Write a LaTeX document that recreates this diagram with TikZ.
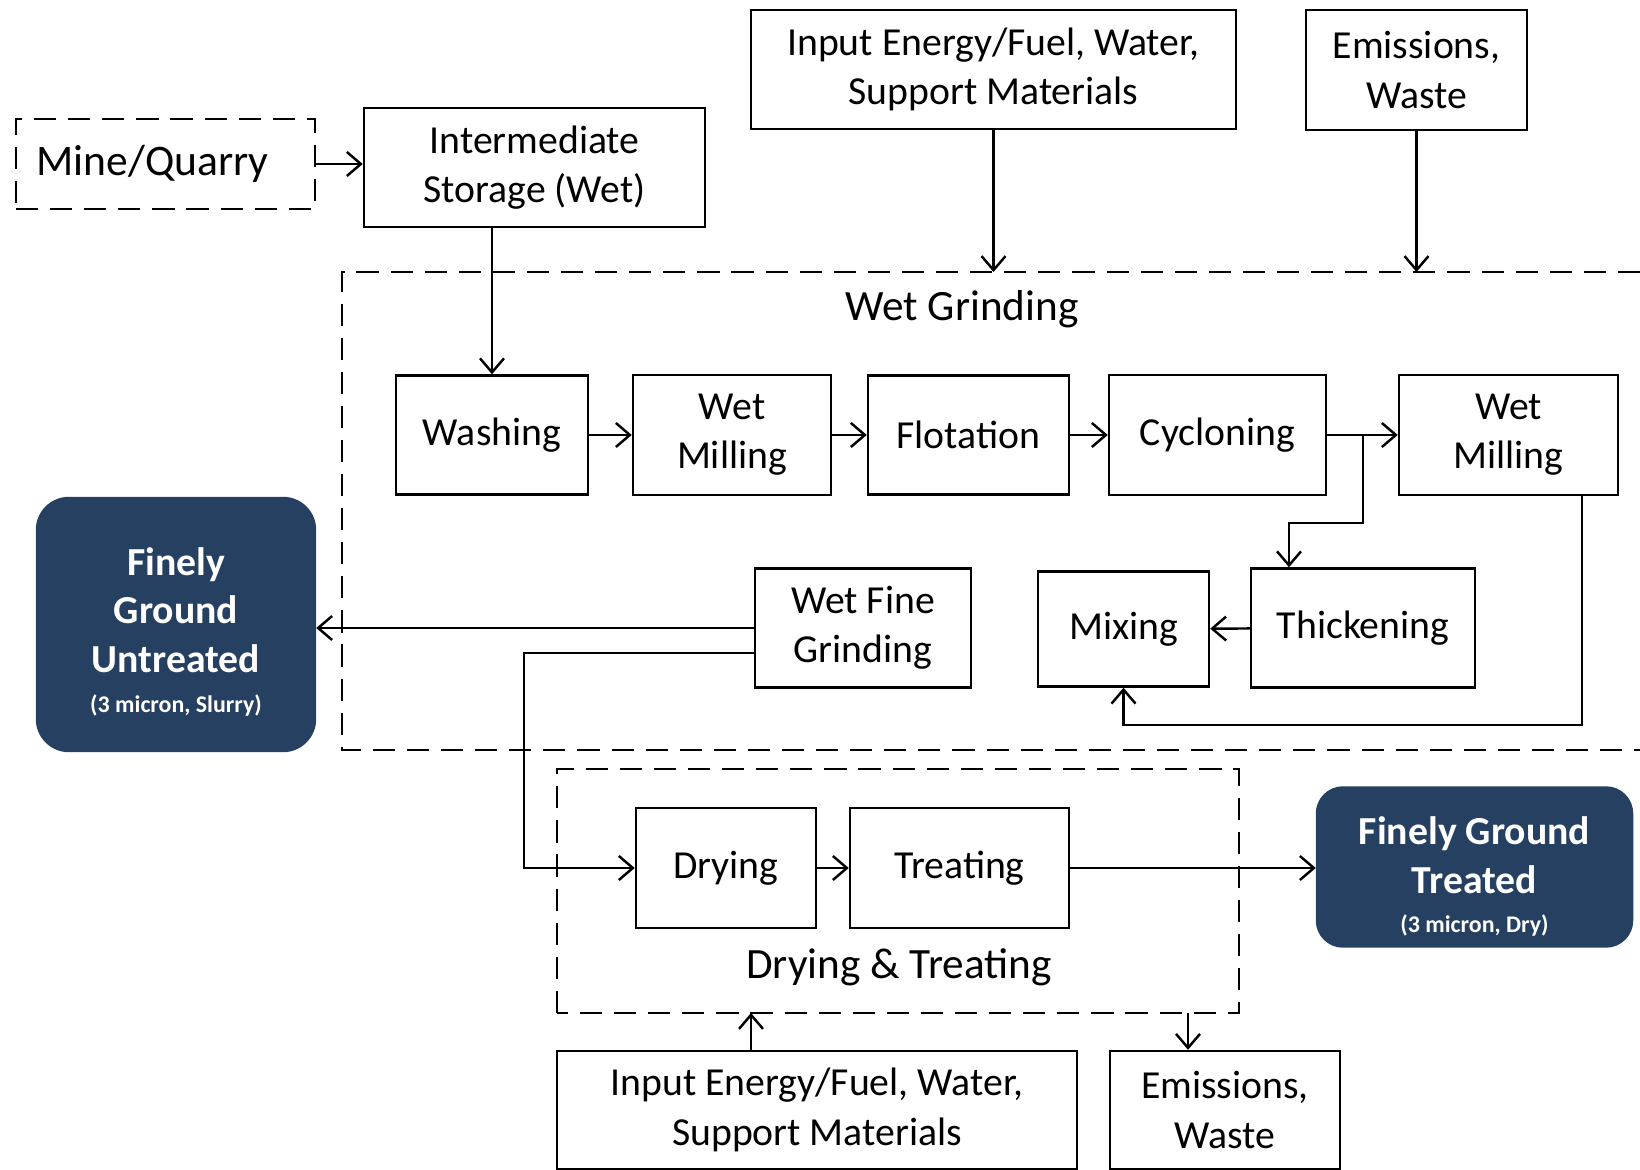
\documentclass[tikz,border=0pt]{standalone}
\usepackage{fontspec}
\setmainfont{Carlito}
\usetikzlibrary{arrows.meta}
\definecolor{navy}{RGB}{37,64,97}
\newcommand{\subnote}[1]{{\fontsize{6.8}{8}\selectfont\bfseries #1}}
\tikzset{
  procbox/.style={draw,line width=0.7pt,align=center,inner sep=0pt,
    font=\fontsize{11.3}{14}\selectfont},
  endbox/.style={draw=navy,fill=navy,text=white,rounded corners=3.2mm,
    align=center,inner sep=0pt,font=\fontsize{11.3}{13.8}\selectfont\bfseries},
  dashbox/.style={draw,line width=0.8pt,dash pattern=on 6.3pt off 3.4pt},
  grouplabel/.style={font=\fontsize{12.3}{14}\selectfont}
}
\begin{document}
\begin{tikzpicture}[>={Straight Barb[length=1.4mm,width=2.4mm]},line width=0.7pt]
    \useasboundingbox (0,0) rectangle (16.40,11.69);
    % dashed groups
    \draw[dashbox] (16.40,8.97) -- (3.42,8.97) -- (3.42,4.19) -- (16.40,4.19);
    \draw[dashbox] (5.57,1.56) rectangle (12.39,4.00);
    \coordinate (wgTop) at (3.42,8.97);
    \coordinate (dtBot) at (5.57,1.56);
    \node[grouplabel] at (9.62,8.60) (wgLabel) {Wet Grinding};
    \node[grouplabel] at (8.99,2.02) (dtLabel) {Drying \& Treating};
    % top row
    \node[procbox,dashbox,minimum width=2.99cm,minimum height=0.90cm,text width=2.58cm,align=left,
      font=\fontsize{12.4}{14}\selectfont] at (1.655,10.05) (mine) {Mine/Quarry};
    \node[procbox,minimum width=3.41cm,minimum height=1.19cm] at (5.345,10.015) (store) {Intermediate\\Storage (Wet)};
    \node[procbox,minimum width=4.85cm,minimum height=1.19cm] at (9.935,10.995) (inTop) {Input Energy/Fuel, Water,\\Support Materials};
    \node[procbox,minimum width=2.21cm,minimum height=1.20cm] at (14.165,10.99) (emTop) {Emissions,\\Waste};
    % wet grinding
    \node[procbox,minimum width=1.92cm,minimum height=1.19cm] at (4.92,7.34) (wash) {Washing};
    \node[procbox,minimum width=1.98cm,minimum height=1.20cm] at (7.32,7.34) (millA) {Wet\\Milling};
    \node[procbox,minimum width=2.01cm,minimum height=1.19cm] at (9.685,7.34) (flot) {Flotation};
    \node[procbox,minimum width=2.17cm,minimum height=1.20cm] at (12.175,7.34) (cyc) {Cycloning};
    \node[procbox,minimum width=2.19cm,minimum height=1.20cm] at (15.085,7.34) (millB) {Wet\\Milling};
    \node[procbox,minimum width=2.24cm,minimum height=1.19cm] at (13.63,5.41) (thick) {Thickening};
    \node[procbox,minimum width=1.71cm,minimum height=1.15cm] at (11.235,5.40) (mix) {Mixing};
    \node[procbox,minimum width=2.16cm,minimum height=1.19cm] at (8.63,5.41) (wfg) {Wet Fine\\Grinding};
    \node[endbox,minimum width=2.78cm,minimum height=2.53cm,text height=51pt] at (1.76,5.445) (untr) {Finely\\Ground\\Untreated\\[-2.4pt]\subnote{(3 micron, Slurry)}};
    % drying and treating
    \node[procbox,minimum width=1.80cm,minimum height=1.20cm] at (7.26,3.01) (dry) {Drying};
    \node[procbox,minimum width=2.19cm,minimum height=1.20cm] at (9.595,3.01) (treat) {Treating};
    \node[endbox,minimum width=3.15cm,minimum height=1.59cm,rounded corners=2.6mm,text height=38.5pt] at (14.745,3.02) (treated) {Finely Ground\\Treated\\[-2.6pt]\subnote{(3 micron, Dry)}};
    % bottom row
    \node[procbox,minimum width=5.20cm,minimum height=1.18cm] at (8.17,0.59) (inBot) {Input Energy/Fuel, Water,\\Support Materials};
    \node[procbox,minimum width=2.30cm,minimum height=1.18cm] at (12.25,0.59) (emBot) {Emissions,\\Waste};
    % connectors
    \draw[->] (mine.east) -- (mine.east -| store.west);
    \draw[->] (wash.north |- store.south) -- (wash.north);
    \draw[->] (inTop.south) -- (inTop.south |- wgTop);
    \draw[->] (emTop.south) -- (emTop.south |- wgTop);
    \draw[->] (wash) -- (millA);
    \draw[->] (millA) -- (flot);
    \draw[->] (flot) -- (cyc);
    \draw[->] (cyc) -- (millB);
    \coordinate (split) at (13.63,7.34);
    \draw[->] (split) -- ++(0,-0.88) -| ([xshift=-7.4mm]thick.north);
    \draw[->] (thick) -- (mix);
    \coordinate (loop) at (15.82,4.44);
    \draw[->] (millB.south -| loop) -- (loop) -| (mix.south);
    \draw[->] (wfg.west) -- (wfg.west -| untr.east);
    \draw[->] ([yshift=-2.5mm]wfg.west) -- ++(-2.30,0) |- (dry.west);
    \draw[->] (dry) -- (treat);
    \draw[->] (treat.east) -- (treat.east -| treated.west);
    \draw[->] ([xshift=-6.6mm]inBot.north) -- ([xshift=-6.6mm]inBot.north |- dtBot);
    \draw[->] ([xshift=-3.7mm]emBot.north |- dtBot) -- ([xshift=-3.7mm]emBot.north);
\end{tikzpicture}
\end{document}
